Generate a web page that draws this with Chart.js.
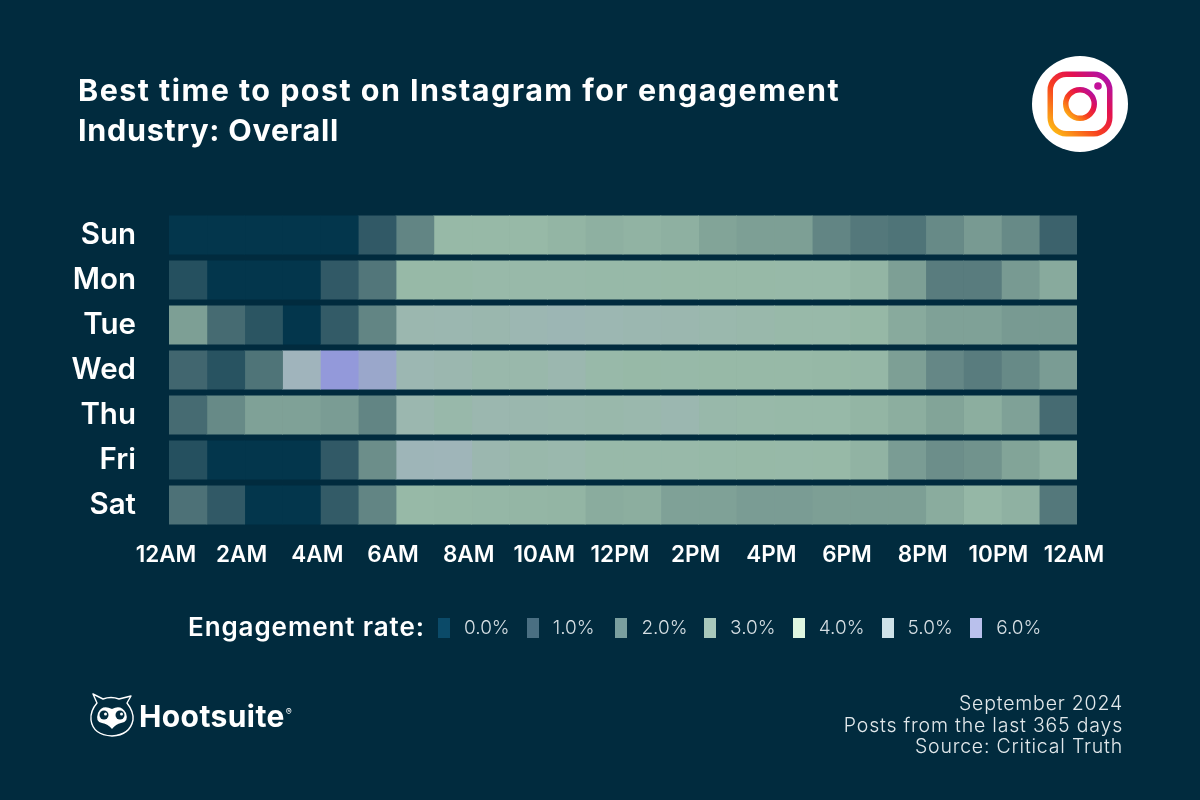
<!DOCTYPE html>
<html>
<head>
<meta charset="utf-8">
<title>Best time to post on Instagram</title>
<script src="https://cdn.jsdelivr.net/npm/chart.js@4"></script>
<style>
  html, body { margin: 0; padding: 0; background: #012b3e; }
  #page { position: relative; width: 1200px; height: 800px; overflow: hidden; background: #012b3e; font-family: Inter, "Open Sans", sans-serif; color: #fff; }
  #chartBox { position: absolute; left: 0; top: 0; width: 1200px; height: 800px; }
  #title { position: absolute; left: 78px; top: 70px; font-size: 30.5px; line-height: 40px; font-weight: 700; white-space: nowrap; }
  #title .l1 { letter-spacing: 1.45px; }
  #title .l2 { letter-spacing: 0.75px; }
  #legendTitle { position: absolute; left: 188px; top: 612px; font-size: 26px; line-height: 30px; font-weight: 600; letter-spacing: 0.9px; white-space: nowrap; }
  .swatch { position: absolute; top: 618px; width: 12px; height: 20px; }
  .swatchText { position: absolute; top: 616px; font-size: 19px; line-height: 24px; font-weight: 300; color: #d5dee3; white-space: nowrap; }
  #notes { position: absolute; right: 77px; top: 693px; text-align: right; font-size: 19.5px; line-height: 21.5px; font-weight: 300; letter-spacing: 0.8px; color: #e2e8eb; white-space: nowrap; }
  #brand { position: absolute; left: 139px; top: 698px; font-size: 30px; line-height: 36px; font-weight: 700; letter-spacing: 0.4px; white-space: nowrap; }
  #brand sup { font-size: 9px; font-weight: 400; vertical-align: 12px; line-height: 0; margin-left: 1px; }
  svg { position: absolute; }
</style>
</head>
<body>
<div id="page">
  <div id="chartBox"><canvas id="heatChart"></canvas></div>
  <div id="title"><span class="l1">Best time to post on Instagram for engagement</span><br><span class="l2">Industry: Overall</span></div>

  <svg style="left:1030px;top:54px" width="100" height="100" viewBox="0 0 100 100">
    <defs>
      <linearGradient id="igGrad" x1="0.05" y1="0.95" x2="0.95" y2="0.05">
        <stop offset="0" stop-color="#fdb515"/>
        <stop offset="0.4" stop-color="#f7401f"/>
        <stop offset="0.7" stop-color="#e3114f"/>
        <stop offset="1" stop-color="#b011a8"/>
      </linearGradient>
    </defs>
    <circle cx="50" cy="50" r="48" fill="#fff"/>
    <rect x="20.25" y="20.25" width="59.5" height="59.5" rx="16" fill="none" stroke="url(#igGrad)" stroke-width="5.5"/>
    <circle cx="50" cy="50" r="14.25" fill="none" stroke="url(#igGrad)" stroke-width="5.5"/>
    <circle cx="68" cy="32" r="3.8" fill="#c4119a"/>
  </svg>

  <div id="legendTitle">Engagement rate:</div>
  <div id="legendItems"></div>

  <svg style="left:88px;top:692px" width="48" height="46" viewBox="0 0 48 46">
    <path d="M5 2 L15 7 Q23 4 31 7 L43 4 L39 11 Q46 20 45 28 Q42 43 24 44 Q5 43 3 28 Q2 19 9 11 Z" fill="none" stroke="#fff" stroke-width="1.4" stroke-linejoin="round"/>
    <path d="M10 21 Q14 12 24 17 Q33 12 38 21 Q41 30 33 31 Q28 32 24 37 Q20 32 14 31 Q7 30 10 21 Z" fill="#fff"/>
    <circle cx="16" cy="23" r="4.5" fill="#012b3e"/>
    <circle cx="32" cy="23" r="4.5" fill="#012b3e"/>
    <circle cx="17.5" cy="22" r="1.5" fill="#fff"/>
    <circle cx="33.5" cy="22" r="1.5" fill="#fff"/>
  </svg>
  <div id="brand">Hootsuite<sup>®</sup></div>

  <div id="notes">September 2024<br>Posts from the last 365 days<br>Source: Critical Truth</div>
</div>

<script>
const days = ['Sun', 'Mon', 'Tue', 'Wed', 'Thu', 'Fri', 'Sat'];
const xTickLabels = ['12AM', '2AM', '4AM', '6AM', '8AM', '10AM', '12PM', '2PM', '4PM', '6PM', '8PM', '10PM', '12AM'];

// engagement rate (%) per hour
const sun = [0, 0, 0, 0, 0, 0.8, 1.8, 4.0, 4.0, 4.0, 3.8, 3.55, 3.7, 3.5, 2.9, 2.7, 2.7, 1.8, 1.5, 1.4, 1.9, 2.5, 1.9, 1.0];
const mon = [0.6, 0, 0, 0, 0.8, 1.45, 4.0, 4.0, 4.1, 4.1, 4.1, 4.05, 4.05, 4.0, 4.0, 4.0, 4.05, 4.05, 3.8, 2.7, 1.6, 1.6, 2.5, 3.2];
const tue = [2.7, 1.2, 0.7, 0, 0.85, 1.8, 4.4, 4.45, 4.35, 4.5, 4.6, 4.5, 4.45, 4.4, 4.3, 4.2, 4.1, 4.1, 3.95, 3.2, 2.8, 2.8, 2.5, 2.5];
const wed = [1.1, 0.65, 1.4, 5.0, 6.0, 5.5, 4.5, 4.4, 4.2, 4.2, 4.4, 4.1, 4.0, 4.05, 4.0, 4.0, 4.0, 3.95, 3.9, 2.7, 1.85, 1.6, 1.9, 2.6];
const thu = [1.2, 1.9, 2.8, 2.8, 2.6, 1.8, 4.4, 4.15, 4.4, 4.35, 4.3, 4.2, 4.3, 4.45, 4.15, 4.1, 4.05, 4.05, 3.8, 3.4, 2.9, 3.4, 2.8, 1.2];
const fri = [0.6, 0, 0, 0, 0.8, 2.0, 4.8, 4.85, 4.4, 4.2, 4.3, 4.1, 4.1, 4.1, 4.05, 4.0, 4.05, 4.0, 3.7, 2.6, 2.0, 2.2, 2.9, 3.5];
const sat = [1.35, 0.8, 0, 0, 0.85, 1.8, 4.0, 3.95, 3.9, 3.85, 3.8, 3.3, 3.4, 2.8, 2.8, 2.6, 2.6, 2.7, 2.7, 2.7, 3.3, 3.9, 3.6, 1.5];

const legendLabels = ['0.0%', '1.0%', '2.0%', '3.0%', '4.0%', '5.0%', '6.0%'];
const legendColors = ['#0b4a68', '#4a6f82', '#7a9f9f', '#a9c8bb', '#dff6e0', '#cfe2e8', '#b9c0ec'];
// the cells sit a little darker than the legend swatches
const cellStops = [[3, 54, 76], [60, 98, 108], [108, 142, 138], [132, 166, 154], [151, 185, 167], [160, 180, 188], [147, 153, 218]];

const rows = [sun, mon, tue, wed, thu, fri, sat];

function rateColor(rate) {
  const low = Math.min(Math.floor(rate), cellStops.length - 2);
  const t = rate - low;
  const c = cellStops[low].map((v, i) => Math.round(v + (cellStops[low + 1][i] - v) * t));
  return `rgb(${c[0]},${c[1]},${c[2]})`;
}

// legend
const legendItems = document.getElementById('legendItems');
legendLabels.forEach((label, i) => {
  const swatch = document.createElement('div');
  swatch.className = 'swatch';
  swatch.style.left = (438 + i * 88.7) + 'px';
  swatch.style.background = legendColors[i];
  legendItems.appendChild(swatch);
  const text = document.createElement('div');
  text.className = 'swatchText';
  text.style.left = (464 + i * 88.7) + 'px';
  text.textContent = label;
  legendItems.appendChild(text);
});

// one stacked dataset per hour, each cell one hour wide
const datasets = [];
for (let h = 0; h < 24; h++) {
  datasets.push({
    label: 'Hour ' + h,
    data: days.map(() => 1),
    backgroundColor: rows.map(r => rateColor(r[h])),
    borderWidth: 0,
    inflateAmount: 0.4, // hides the seams between cells
    barPercentage: 0.846,
    categoryPercentage: 1
  });
}

new Chart(document.getElementById('heatChart'), {
  type: 'bar',
  data: { labels: days, datasets: datasets },
  options: {
    indexAxis: 'y',
    responsive: true,
    maintainAspectRatio: false,
    animation: false,
    layout: { padding: { left: 0, right: 123, top: 212.5, bottom: 0 } },
    plugins: { legend: { display: false }, tooltip: { enabled: false } },
    scales: {
      x: {
        type: 'linear',
        stacked: true,
        min: 0,
        max: 24,
        grid: { display: false, drawTicks: false },
        border: { display: false },
        afterFit: scale => { scale.height = 272.5; },
        ticks: {
          stepSize: 2,
          autoSkip: false,
          maxRotation: 0,
          padding: 14,
          labelOffset: -3,
          color: '#fff',
          font: { family: 'Inter', size: 22.5, weight: '600' },
          callback: (v, i) => xTickLabels[i]
        }
      },
      y: {
        stacked: true,
        grid: { display: false, drawTicks: false },
        border: { display: false },
        afterFit: scale => { scale.width = 169; },
        ticks: {
          padding: 33,
          color: '#fff',
          font: { family: 'Inter', size: 29.5, weight: '600' }
        }
      }
    }
  }
});
</script>
</body>
</html>
